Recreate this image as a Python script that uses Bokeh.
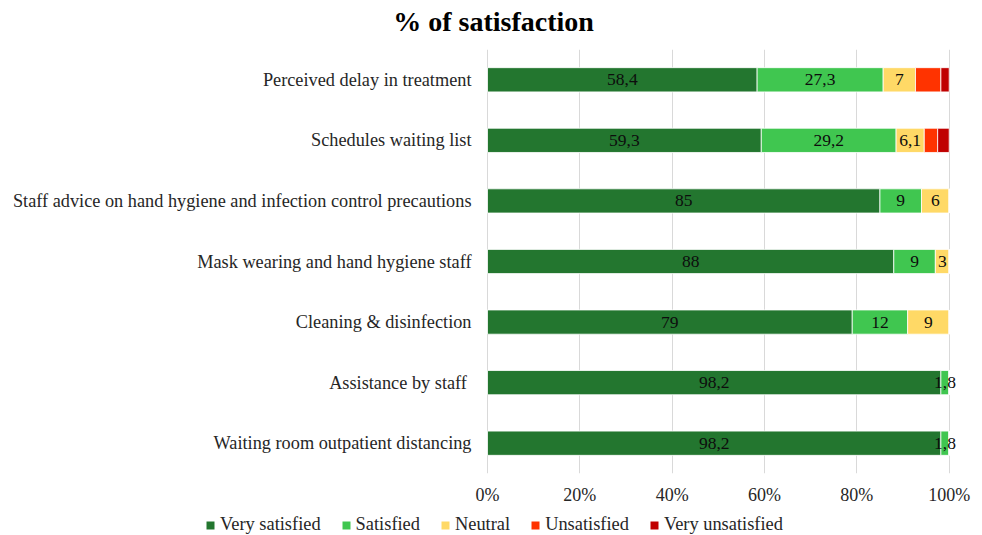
from bokeh.plotting import figure
from bokeh.layouts import column
from bokeh.models import (ColumnDataSource, FactorRange, FixedTicker, Legend, LegendItem,
                          LabelSet, Label, Range1d)
from bokeh.embed import file_html
from bokeh.resources import INLINE

categories = [
    "Perceived delay in treatment",
    "Schedules waiting list",
    "Staff advice on hand hygiene and infection control precautions",
    "Mask wearing and hand hygiene staff",
    "Cleaning & disinfection",
    "Assistance by staff ",
    "Waiting room outpatient distancing",
]
very_satisfied = [58.4, 59.3, 85, 88, 79, 98.2, 98.2]
satisfied = [27.3, 29.2, 9, 9, 12, 1.8, 1.8]
neutral = [7, 6.1, 6, 3, 9, 0, 0]
unsatisfied = [5.5, 2.9, 0, 0, 0, 0, 0]
very_unsatisfied = [1.8, 2.5, 0, 0, 0, 0, 0]

series_names = ["Very satisfied", "Satisfied", "Neutral", "Unsatisfied", "Very unsatisfied"]
series_keys = ["vs", "s", "n", "u", "vu"]
colors = ["#23762f", "#40c650", "#ffd966", "#ff3300", "#c00000"]
label_series = [True, True, True, False, False]
tick_values = [0, 20, 40, 60, 80, 100]
tick_labels = ["0%", "20%", "40%", "60%", "80%", "100%"]
chart_title = "% of satisfaction"

def fmt(v):
    s = ("%.1f" % v).rstrip("0").rstrip(".")
    return s.replace(".", ",")

data = {"cat": categories, "vs": very_satisfied, "s": satisfied, "n": neutral,
        "u": unsatisfied, "vu": very_unsatisfied}
src = ColumnDataSource(data)

SERIF = "Liberation Serif"
W = 982
H_TITLE, H_MAIN, H_LEG = 49, 458, 28
PX0, PX100 = 487.0, 948.7          # screen x of 0% and 100%
ppu = (PX100 - PX0) / 100.0

def strip(h):
    f = figure(width=W, height=h, output_backend="svg", toolbar_location=None,
               x_range=Range1d(0, W), y_range=Range1d(0, h),
               min_border_left=0, min_border_right=0, min_border_top=0, min_border_bottom=0)
    f.axis.visible = False
    f.grid.visible = False
    f.outline_line_color = None
    return f

# title strip
pt = strip(H_TITLE)
pt.add_layout(Label(x=493, y=H_TITLE - 21, text=chart_title, text_align="center",
                    text_baseline="alphabetic", text_font=SERIF, text_font_size="28px",
                    text_font_style="bold", text_color="#000000"))

# main chart
p = figure(width=W, height=H_MAIN, output_backend="svg", toolbar_location=None,
           y_range=FactorRange(*list(reversed(categories)), range_padding=0),
           x_range=Range1d(-PX0 / ppu, 100 + (W - PX100) / ppu),
           min_border_left=0, min_border_right=0, min_border_top=0, min_border_bottom=33)
p.outline_line_color = None

renderers = p.hbar_stack(series_keys, y="cat", height=0.4, color=colors, source=src,
                         line_color="white", line_width=0.8)

cum = [0.0] * len(categories)
for key, vals, show in zip(series_keys, [very_satisfied, satisfied, neutral, unsatisfied, very_unsatisfied], label_series):
    xs, ys, txt = [], [], []
    for i, v in enumerate(vals):
        if show and v > 0:
            xs.append(cum[i] + v / 2)
            ys.append(categories[i])
            txt.append(fmt(v))
        cum[i] += v
    p.add_layout(LabelSet(x="x", y="y", text="t", source=ColumnDataSource(dict(x=xs, y=ys, t=txt)),
                          text_align="center", text_baseline="middle", text_font=SERIF,
                          text_font_size="17.5px", text_color="#0d0d0d"))

p.add_layout(LabelSet(x="x", y="cat", text="cat",
                      source=ColumnDataSource(dict(x=[0] * len(categories), cat=categories)),
                      x_offset=-16, text_align="right", text_baseline="middle",
                      text_font=SERIF, text_font_size="18.3px", text_color="#262626"))
p.yaxis.visible = False

p.xaxis.ticker = FixedTicker(ticks=tick_values)
p.xaxis.major_label_overrides = {v: l for v, l in zip(tick_values, tick_labels)}
p.xaxis.axis_line_color = None
p.xaxis.major_tick_line_color = None
p.xaxis.major_tick_out = 0
p.xaxis.major_tick_in = 0
p.xaxis.minor_tick_line_color = None
p.xaxis.minor_tick_out = 0
p.xaxis.major_label_text_font = SERIF
p.xaxis.major_label_text_font_size = "18px"
p.xaxis.major_label_text_color = "#262626"
p.xaxis.major_label_standoff = 11

p.xgrid.grid_line_color = "#d9d9d9"
p.ygrid.grid_line_color = None

# legend strip
pl = strip(H_LEG)
dummies = [pl.vbar(x=[W / 2], bottom=[-30], top=[-20], width=1, fill_color=c, line_color=None)
           for c in colors]
items = [LegendItem(label=n, renderers=[r]) for n, r in zip(series_names, dummies)]
legend = Legend(items=items, orientation="horizontal", location=(205, 0),
                glyph_width=10, glyph_height=10, label_standoff=5, spacing=20,
                label_height=18, padding=0, margin=0, border_line_alpha=0, background_fill_alpha=0,
                label_text_font=SERIF, label_text_font_size="18.4px",
                label_text_color="#262626")
pl.add_layout(legend, "center")

open("out.html", "w").write(file_html(column(pt, p, pl), INLINE))
